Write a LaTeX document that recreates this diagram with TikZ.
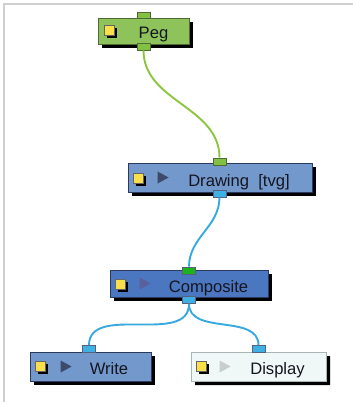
\documentclass[tikz,border=0pt]{standalone}
\usepackage{fontspec}
\setmainfont{Liberation Sans}
\usetikzlibrary{shadows,shapes.misc}
\definecolor{peggreen}{HTML}{8DC35A}
\definecolor{pegline}{HTML}{4F6B35}
\definecolor{drawblue}{HTML}{7398CB}
\definecolor{compblue}{HTML}{4B77C0}
\definecolor{boxline}{HTML}{2B3A5C}
\definecolor{dispfill}{HTML}{EFF7F7}
\definecolor{displine}{HTML}{A9B5B5}
\definecolor{portgreen}{HTML}{82C043}
\definecolor{portgreentwo}{HTML}{1DB31D}
\definecolor{portblue}{HTML}{3FB0E3}
\definecolor{wiregreen}{HTML}{8CC63F}
\definecolor{wireblue}{HTML}{38A9DF}
\definecolor{iconyellow}{HTML}{F9E04B}
\definecolor{playdark}{HTML}{3D4A6B}
\definecolor{playcomp}{HTML}{5A5F9E}
\definecolor{playlight}{HTML}{C9CDCD}
\definecolor{framegray}{HTML}{D0D0D0}
\definecolor{txt}{HTML}{15151F}
\begin{document}
\begin{tikzpicture}[x=1pt,y=-1pt,
  nodebox/.style={rectangle, draw=boxline, line width=0.8pt, inner sep=0pt,
    minimum height=29pt,
    drop shadow={shadow xshift=4pt, shadow yshift=-4pt, fill=black, opacity=1}},
  portbox/.style={rectangle, draw=boxline!80, line width=0.6pt, minimum width=13pt,
    minimum height=7pt, inner sep=0pt},
  iconbox/.style={rectangle, fill=iconyellow, draw=black!60, line width=0.5pt,
    minimum size=10pt, inner sep=0pt,
    drop shadow={shadow xshift=2.5pt, shadow yshift=-2.5pt, fill=black, opacity=1}},
  label/.style={anchor=base, text=txt, inner sep=0pt, font=\fontsize{16.6}{18}\selectfont},
  wire/.style={line width=1.9pt, out=-90, in=90}
]
\useasboundingbox (0,0) rectangle (353,402);
\draw[framegray, line width=2pt] (353,4) -- (4,4) -- (4,402);

% boxes
\node[nodebox, fill=peggreen, draw=pegline, minimum width=91pt, minimum height=26pt] (peg) at (143.5,31) {};
\node[nodebox, fill=drawblue, minimum width=184pt] (drw) at (220,177.5) {};
\node[nodebox, fill=compblue, minimum width=158pt, minimum height=27pt] (comp) at (189,283.5) {};
\node[nodebox, fill=drawblue, minimum width=121pt] (wrt) at (90.5,366.5) {};
\node[nodebox, chamfered rectangle, chamfered rectangle corners=north east,
  chamfered rectangle xsep=5pt, chamfered rectangle ysep=5pt,
  fill=dispfill, draw=displine, minimum width=135pt] (disp) at (258.5,366.5) {};

% yellow icons
\node[iconbox] (pegicon) at ([xshift=12pt,yshift=1pt]peg.west) {};
\node[iconbox] (drwicon) at ([xshift=10.5pt,yshift=-0.5pt]drw.west) {};
\node[iconbox] (compicon) at ([xshift=11pt,yshift=-0.5pt]comp.west) {};
\node[iconbox] (wrticon) at ([xshift=10.5pt]wrt.west) {};
\node[iconbox] (dispicon) at ([xshift=11pt]disp.west) {};

% play triangles
\fill[playdark] ([xshift=30pt]drw.west) ++(0,-6) -- ++(11,6) -- ++(-11,6) -- cycle;
\fill[playcomp] ([xshift=30pt]comp.west) ++(0,-6) -- ++(11,6) -- ++(-11,6) -- cycle;
\fill[playdark] ([xshift=31pt]wrt.west) ++(0,-6) -- ++(11,6) -- ++(-11,6) -- cycle;
\fill[playlight] ([xshift=29pt]disp.west) ++(0,-6) -- ++(11,6) -- ++(-11,6) -- cycle;

% labels
\node[label] (pegtxt) at ([xshift=10pt,yshift=-7pt]peg.center) {Peg};
\node[label] (drwtxt) at ([xshift=19pt,yshift=-8.5pt]drw.center) {Drawing\ \ [tvg]};
\node[label] (comptxt) at ([xshift=19.5pt,yshift=-8.5pt]comp.center) {Composite};
\node[label] (wrttxt) at ([xshift=18.5pt,yshift=-7.5pt]wrt.center) {Write};
\node[label] (disptxt) at ([xshift=19pt,yshift=-7.5pt]disp.center) {Display};

% ports
\node[portbox, fill=portgreen, draw=pegline, minimum height=6pt] (pegin) at (143.5,15) {};
\node[portbox, fill=portgreen, draw=pegline] (pegout) at (143.5,46.5) {};
\node[portbox, fill=portgreen, draw=pegline] (drwin) at (219.5,161.5) {};
\node[portbox, fill=portblue] (drwout) at (219.5,193.5) {};
\node[portbox, fill=portgreentwo] (compin) at (189,270.5) {};
\node[portbox, fill=portblue] (compout) at (189,300) {};
\node[portbox, fill=portblue] (wrtin) at (89,349) {};
\node[portbox, fill=portblue] (dispin) at (258.5,349) {};

% wires
\draw[wire, wiregreen] (pegout.south) to (drwin.north);
\draw[wire, wireblue] (drwout.south) to (compin.north);
\draw[wire, wireblue] (compout.south) to (wrtin.north);
\draw[wire, wireblue] (compout.south) to (dispin.north);
\end{tikzpicture}
\end{document}
